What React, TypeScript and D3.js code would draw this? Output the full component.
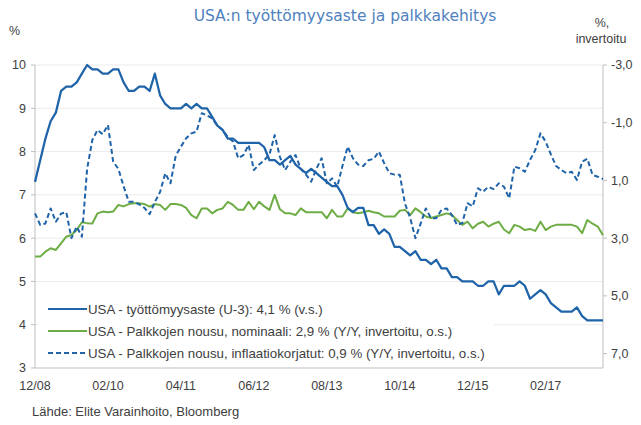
import React from "react";
import * as d3 from "d3";

// Monthly data, 12/2008 – 01/2018
const unemployment = [
  7.3, 7.8, 8.3, 8.7, 8.9, 9.4, 9.5, 9.5, 9.6, 9.8,
  10.0, 9.9, 9.9, 9.8, 9.8, 9.9, 9.9, 9.6, 9.4, 9.4,
  9.5, 9.5, 9.4, 9.8, 9.3, 9.1, 9.0, 9.0, 9.0, 9.1,
  9.0, 9.1, 9.0, 9.0, 8.8, 8.6, 8.5, 8.3, 8.3, 8.2,
  8.2, 8.2, 8.2, 8.2, 8.1, 7.8, 7.8, 7.7, 7.8, 7.9,
  7.7, 7.6, 7.5, 7.6, 7.5, 7.4, 7.3, 7.2, 7.2, 7.0,
  6.7, 6.6, 6.7, 6.7, 6.3, 6.3, 6.1, 6.2, 6.1, 5.8,
  5.8, 5.7, 5.6, 5.7, 5.5, 5.5, 5.4, 5.5, 5.3, 5.3,
  5.1, 5.1, 5.0, 5.0, 5.0, 4.9, 4.9, 5.0, 5.0, 4.7,
  4.9, 4.9, 4.9, 5.0, 4.9, 4.6, 4.7, 4.8, 4.7, 4.5,
  4.4, 4.3, 4.3, 4.3, 4.4, 4.2, 4.1, 4.1, 4.1, 4.1,
];

const wagesNominal = [
  3.64, 3.64, 3.47, 3.35, 3.41, 3.18, 2.95, 2.89, 2.72, 2.45,
  2.48, 2.49, 2.14, 2.08, 2.1, 2.08, 1.85, 1.9, 1.82, 1.79,
  1.79, 1.82, 1.91, 1.82, 1.85, 2.02, 1.82, 1.82, 1.85, 1.95,
  2.2, 2.31, 1.97, 1.97, 2.14, 2.02, 1.97, 1.74, 1.85, 2.02,
  2.02, 1.74, 2.0, 1.74, 1.9, 2.02, 1.5, 2.0, 2.14, 2.14,
  2.2, 1.97, 2.1, 2.1, 2.1, 2.1, 2.31, 2.02, 2.25, 2.25,
  1.97, 2.1, 2.14, 2.1, 2.05, 2.1, 2.14, 2.25, 2.25, 2.25,
  2.05, 2.02, 2.2, 1.97, 2.1, 2.25, 2.3, 2.25, 2.2, 2.14,
  2.2, 2.37, 2.54, 2.43, 2.66, 2.5, 2.43, 2.6, 2.5, 2.43,
  2.7, 2.83, 2.54, 2.6, 2.72, 2.68, 2.75, 2.43, 2.72, 2.6,
  2.54, 2.54, 2.54, 2.54, 2.6, 2.83, 2.37, 2.5, 2.6, 2.9,
];

const wagesReal = [
  2.14, 2.54, 2.49, 1.97, 2.43, 2.15, 2.1, 3.0, 2.6, 2.95,
  0.6, -0.4, -0.75, -0.6, -0.92, 0.35, 0.6, 1.2, 1.74, 1.74,
  1.83, 1.95, 2.17, 1.75, 1.4, 0.75, 1.1, 0.15, -0.17, -0.46,
  -0.63, -0.69, -1.33, -1.25, -1.15, -0.9, -0.75, -0.5, -0.35, 0.23,
  0.12, -0.23, 0.64, 0.45, 0.3, 0.1, -0.57, 0.18, 0.64, 0.35,
  0.12, 0.6, 0.8, 1.04, 0.6, 0.23, 1.1, 0.93, 1.22, 0.5,
  -0.17, 0.23, 0.45, 0.5, 0.3, 0.25, 0.0, 0.4, 0.75, 0.8,
  0.8, 1.8, 2.3, 3.0, 2.5, 1.97, 2.31, 2.31, 2.02, 1.97,
  2.2, 2.54, 2.48, 1.79, 1.9, 1.27, 1.39, 1.22, 1.3, 1.1,
  1.22, 1.62, 0.52, 0.58, 0.7, 0.29, -0.05, -0.63, -0.34, 0.1,
  0.5, 0.64, 0.75, 0.7, 0.98, 0.35, 0.25, 0.81, 0.87, 0.95,
];

const xTickLabels = ["12/08", "02/10", "04/11", "06/12", "08/13", "10/14", "12/15", "02/17"];
const xTickStep = 14; // months between labels
const leftTicks = [3, 4, 5, 6, 7, 8, 9, 10];
const rightTicks = [-3, -1, 1, 3, 5, 7];

const title = "USA:n työttömyysaste ja palkkakehitys";
const legendLabels = [
  "USA - työttömyysaste (U-3): 4,1 % (v.s.)",
  "USA - Palkkojen nousu, nominaali: 2,9 % (Y/Y, invertoitu, o.s.)",
  "USA - Palkkojen nousu, inflaatiokorjatut: 0,9 % (Y/Y, invertoitu, o.s.)",
];
const source = "Lähde: Elite Varainhoito, Bloomberg";

const BLUE = "#1F63A8";
const GREEN = "#6EAD45";
const TEXT = "#404040";
const AXIS = "#BFBFBF";
const GRID = "#EBEBEB";
const FONT = "'Liberation Sans', Arial, sans-serif";

export default function App() {
  const W = 641, H = 425;
  const left = 35, right = 603, top = 65, bottom = 368;

  const x = d3.scaleLinear().domain([0, unemployment.length - 1]).range([left, right]);
  const yL = d3.scaleLinear().domain([3, 10]).range([bottom, top]);
  const yR = d3.scaleLinear().domain([-3, 7.5]).range([top, bottom]);

  const lineL = d3.line<number>().x((_, i) => x(i)).y((d) => yL(d));
  const lineR = d3.line<number>().x((_, i) => x(i)).y((d) => yR(d));

  const fmtR = (v: number) => d3.format(".1f")(v).replace(".", ",").replace("−", "-");

  const legendY = [309, 331, 353];
  const legendColors = [BLUE, GREEN, BLUE];
  const legendDash = [undefined, undefined, "5,3"];

  return (
    <svg width={W} height={H} style={{ position: "absolute", left: 0, top: 0, background: "#fff" }}>
      <rect x={0} y={0} width={W} height={H} fill="#fff" />
      {/* title */}
      <text x={345} y={21} textAnchor="middle" fontFamily="'DejaVu Sans', sans-serif" fontSize={15.5} fill="#4F81BD">
        {title}
      </text>
      <text x={9} y={35} fontFamily={FONT} fontSize={12.5} fill={TEXT}>%</text>
      <text x={602} y={27} textAnchor="middle" fontFamily={FONT} fontSize={12.5} fill={TEXT}>%,</text>
      <text x={601} y={43} textAnchor="middle" fontFamily={FONT} fontSize={12.5} fill={TEXT}>invertoitu</text>

      {/* gridlines */}
      {leftTicks.filter((t) => t > 3).map((t) => (
        <line key={"g" + t} x1={left} x2={right} y1={yL(t)} y2={yL(t)} stroke={GRID} strokeWidth={1} />
      ))}

      {/* axes */}
      <line x1={left} x2={left} y1={top} y2={bottom} stroke={AXIS} />
      <line x1={right} x2={right} y1={top} y2={bottom} stroke={AXIS} />
      <line x1={left} x2={right} y1={bottom} y2={bottom} stroke={AXIS} />
      {leftTicks.map((t) => (
        <g key={"l" + t}>
          <line x1={left - 4} x2={left} y1={yL(t)} y2={yL(t)} stroke={AXIS} />
          <text x={26} y={yL(t)} dy="0.35em" textAnchor="end" fontFamily={FONT} fontSize={12.5} fill={TEXT}>
            {t}
          </text>
        </g>
      ))}
      {rightTicks.map((t) => (
        <g key={"r" + t}>
          <line x1={right} x2={right + 4} y1={yR(t)} y2={yR(t)} stroke={AXIS} />
          <text x={611} y={yR(t)} dy="0.35em" textAnchor="start" fontFamily={FONT} fontSize={12.5} fill={TEXT}>
            {fmtR(t)}
          </text>
        </g>
      ))}
      {xTickLabels.map((lab, k) => (
        <text key={lab} x={x(k * xTickStep)} y={390} textAnchor="middle" fontFamily={FONT} fontSize={12.5} fill={TEXT}>
          {lab}
        </text>
      ))}

      {/* series */}
      <path d={lineR(wagesNominal) ?? ""} fill="none" stroke={GREEN} strokeWidth={2} strokeLinejoin="round" />
      <path d={lineR(wagesReal) ?? ""} fill="none" stroke={BLUE} strokeWidth={2} strokeDasharray="5,3" strokeLinejoin="round" />
      <path d={lineL(unemployment) ?? ""} fill="none" stroke={BLUE} strokeWidth={2.25} strokeLinejoin="round" />

      {/* legend */}
      <rect x={38} y={296} width={456} height={70} fill="#fff" />
      {legendLabels.map((lab, k) => (
        <g key={"lg" + k}>
          <line x1={48} x2={87} y1={legendY[k]} y2={legendY[k]} stroke={legendColors[k]} strokeWidth={2} strokeDasharray={legendDash[k]} />
          <text x={88} y={legendY[k]} dy="0.35em" fontFamily={FONT} fontSize={13.3} fill={TEXT}>
            {lab}
          </text>
        </g>
      ))}

      <text x={32} y={416} fontFamily={FONT} fontSize={13} fill={TEXT}>{source}</text>
    </svg>
  );
}
